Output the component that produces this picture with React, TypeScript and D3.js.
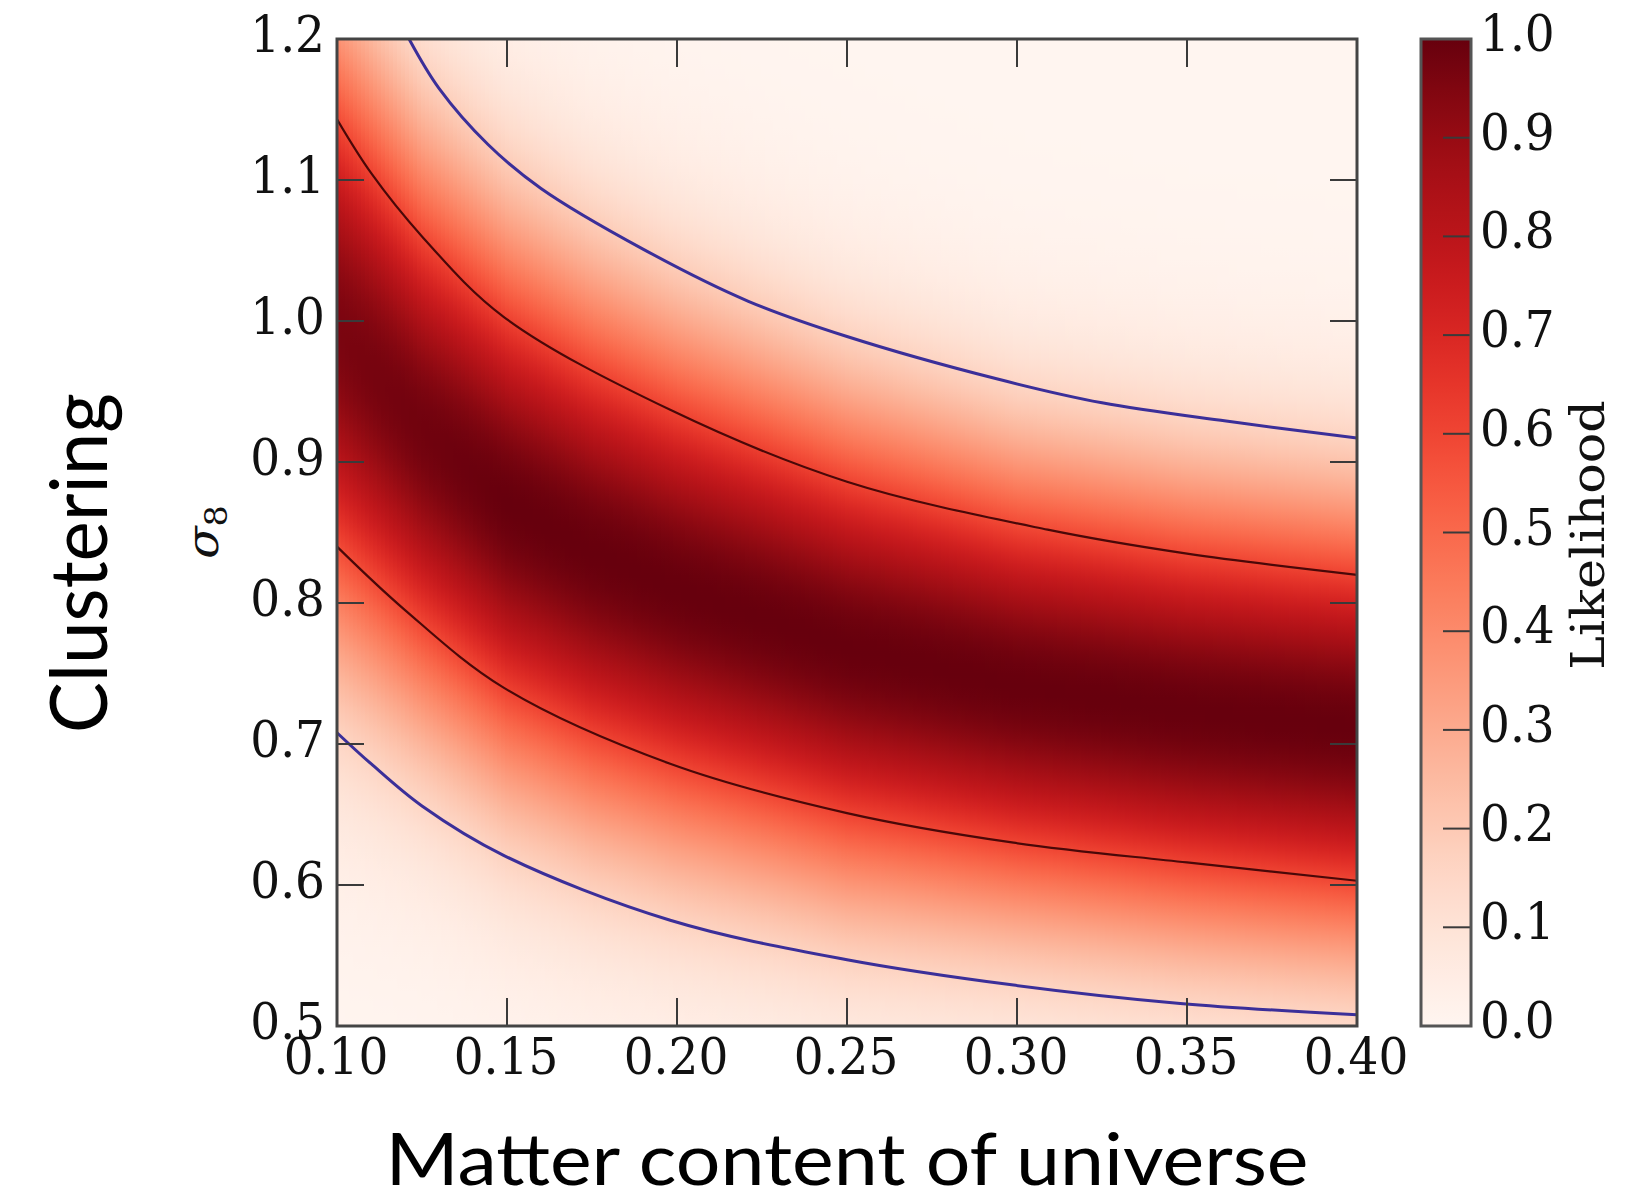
import React from 'react';
import * as d3 from 'd3';

// ---------- data ----------
const xTicks = [0.1, 0.15, 0.2, 0.25, 0.3, 0.35, 0.4];
const xTickLabels = ['0.10', '0.15', '0.20', '0.25', '0.30', '0.35', '0.40'];
const yTicks = [0.5, 0.6, 0.7, 0.8, 0.9, 1.0, 1.1, 1.2];
const yTickLabels = ['0.5', '0.6', '0.7', '0.8', '0.9', '1.0', '1.1', '1.2'];
const cbTicks = [0, 0.1, 0.2, 0.3, 0.4, 0.5, 0.6, 0.7, 0.8, 0.9, 1.0];
const cbTickLabels = ['0.0', '0.1', '0.2', '0.3', '0.4', '0.5', '0.6', '0.7', '0.8', '0.9', '1.0'];

// likelihood ridge: centre (sigma8), width and peak along Omega_m
const ridgeOmega = [0.1, 0.125, 0.15, 0.175, 0.2, 0.25, 0.3, 0.35, 0.4];
const ridgeCenter = [0.992, 0.922, 0.87, 0.836, 0.81, 0.768, 0.741, 0.724, 0.712];
const ridgeWidth = [0.152, 0.138, 0.133, 0.129, 0.125, 0.118, 0.111, 0.109, 0.108];
const ridgePeak = [0.96, 0.98, 1.0, 1.0, 1.0, 1.0, 1.0, 1.0, 1.0];

// contour lines [Omega_m, sigma8]
const innerUpper: [number, number][] = [
  [0.1, 1.143], [0.11, 1.105], [0.125, 1.06], [0.149, 1.003], [0.198, 0.937],
  [0.25, 0.886], [0.309, 0.852], [0.35, 0.835], [0.4, 0.82],
];
const innerLower: [number, number][] = [
  [0.1, 0.84], [0.12, 0.795], [0.149, 0.74], [0.198, 0.686], [0.25, 0.651],
  [0.299, 0.63], [0.35, 0.616], [0.4, 0.603],
];
const outerUpper: [number, number][] = [
  [0.1212, 1.2], [0.13, 1.165], [0.1445, 1.125], [0.16, 1.094], [0.19, 1.051],
  [0.221, 1.014], [0.25, 0.989], [0.294, 0.959], [0.325, 0.942], [0.3615, 0.929], [0.4, 0.917],
];
const outerLower: [number, number][] = [
  [0.1, 0.708], [0.11, 0.686], [0.125, 0.656], [0.149, 0.621], [0.198, 0.575],
  [0.25, 0.547], [0.299, 0.529], [0.348, 0.516], [0.4, 0.508],
];

// ---------- layout ----------
const W = 1629;
const H = 1198;
const L = 337, R = 1357, T = 39, B = 1026;
const CBL = 1421, CBR = 1471;
const STRETCH = 1.08;

const x = d3.scaleLinear().domain([0.1, 0.4]).range([L, R]);
const y = d3.scaleLinear().domain([0.5, 1.2]).range([B, T]);
const cbY = d3.scaleLinear().domain([0, 1]).range([B, T]);

const centerAt = d3.scaleLinear().domain(ridgeOmega).range(ridgeCenter).clamp(true);
const widthAt = d3.scaleLinear().domain(ridgeOmega).range(ridgeWidth).clamp(true);
const peakAt = d3.scaleLinear().domain(ridgeOmega).range(ridgePeak).clamp(true);

const COLW = 4;
const NSTOP = 90;
const serif = '"DejaVu Serif", serif';
const sans = 'Lato, "Open Sans", sans-serif';

export default function App() {
  const nCols = Math.ceil((R - L) / COLW);
  const cols = d3.range(nCols).map((i) => {
    const px = L + i * COLW;
    const om = x.invert(px + COLW / 2);
    const c = centerAt(om), w = widthAt(om), p = peakAt(om);
    const stops = d3.range(NSTOP + 1).map((k) => {
      const s8 = 1.2 - (0.7 * k) / NSTOP;
      const z = (s8 - c) / w;
      const v = p * Math.exp(-0.5 * z * z);
      return { off: k / NSTOP, color: d3.interpolateReds(v) };
    });
    return { px, stops };
  });

  const line = d3
    .line<[number, number]>()
    .x((d) => x(d[0]))
    .y((d) => y(d[1]))
    .curve(d3.curveCatmullRom.alpha(0.5));

  const cbStops = d3.range(41).map((k) => ({ off: k / 40, color: d3.interpolateReds(1 - k / 40) }));
  const tickColor = '#3a3a3a';

  return (
    <svg width={W} height={H} style={{ position: 'absolute', left: 0, top: 0, background: '#fff' }}>
      <defs>
        {cols.map((c, i) => (
          <linearGradient key={i} id={`col${i}`} x1="0" y1="0" x2="0" y2="1">
            {c.stops.map((s, k) => (
              <stop key={k} offset={s.off} stopColor={s.color} />
            ))}
          </linearGradient>
        ))}
        <linearGradient id="cbgrad" x1="0" y1="0" x2="0" y2="1">
          {cbStops.map((s, k) => (
            <stop key={k} offset={s.off} stopColor={s.color} />
          ))}
        </linearGradient>
        <clipPath id="plotclip">
          <rect x={L} y={T} width={R - L} height={B - T} />
        </clipPath>
      </defs>
      <rect x={0} y={0} width={W} height={H} fill="#fff" />

      {/* heatmap */}
      <g clipPath="url(#plotclip)">
        {cols.map((c, i) => (
          <rect key={i} x={c.px} y={T} width={COLW + 0.8} height={B - T} fill={`url(#col${i})`} />
        ))}
        <path d={line(outerUpper) || ''} fill="none" stroke="#3b2f99" strokeWidth={3} />
        <path d={line(outerLower) || ''} fill="none" stroke="#3b2f99" strokeWidth={3} />
        <path d={line(innerUpper) || ''} fill="none" stroke="#4a0808" strokeWidth={2.2} />
        <path d={line(innerLower) || ''} fill="none" stroke="#4a0808" strokeWidth={2.2} />
      </g>

      {/* ticks */}
      <g stroke={tickColor} strokeWidth={2}>
        {xTicks.map((t, i) => (
          <g key={i}>
            <line x1={x(t)} x2={x(t)} y1={B} y2={B - 28} />
            <line x1={x(t)} x2={x(t)} y1={T} y2={T + 28} />
          </g>
        ))}
        {yTicks.map((t, i) => (
          <g key={i}>
            <line x1={L} x2={L + 27} y1={y(t)} y2={y(t)} />
            <line x1={R} x2={R - 27} y1={y(t)} y2={y(t)} />
          </g>
        ))}
      </g>
      <rect x={L} y={T} width={R - L} height={B - T} fill="none" stroke="#444" strokeWidth={3} />

      {/* tick labels */}
      <g fontFamily={serif} fontSize={47} fill="#111">
        {xTicks.map((t, i) => (
          <text key={i} transform={`translate(${x(t) - 1},${B + 48}) scale(1,${STRETCH})`} textAnchor="middle">
            {xTickLabels[i]}
          </text>
        ))}
        {yTicks.map((t, i) => (
          <text key={i} transform={`translate(${L - 12},${y(t) + 13}) scale(1,${STRETCH})`} textAnchor="end">
            {yTickLabels[i]}
          </text>
        ))}
      </g>

      {/* sigma8 label */}
      <text transform={`translate(218,532) rotate(-90) scale(${STRETCH},1)`} textAnchor="middle" fontFamily={serif} fill="#111">
        <tspan fontStyle="italic" fontSize={44}>σ</tspan>
        <tspan fontSize={31} dy={9}>8</tspan>
      </text>

      {/* colorbar */}
      <rect x={CBL} y={T} width={CBR - CBL} height={B - T} fill="url(#cbgrad)" />
      <g stroke={tickColor} strokeWidth={2}>
        {cbTicks.map((t, i) => (
          <line key={i} x1={CBR} x2={CBR - 28} y1={cbY(t)} y2={cbY(t)} />
        ))}
      </g>
      <rect x={CBL} y={T} width={CBR - CBL} height={B - T} fill="none" stroke="#555" strokeWidth={3} />
      <g fontFamily={serif} fontSize={47} fill="#111">
        {cbTicks.map((t, i) => (
          <text key={i} transform={`translate(${CBR + 9},${cbY(t) + 12}) scale(1,${STRETCH})`} textAnchor="start">
            {cbTickLabels[i]}
          </text>
        ))}
      </g>
      <text transform={`translate(1604,535) rotate(-90) scale(${STRETCH},1)`} textAnchor="middle" fontFamily={serif} fontSize={47} fill="#111">
        Likelihood
      </text>

      {/* slide labels */}
      <text transform="translate(107,563) rotate(-90)" textAnchor="middle" fontFamily={sans} fontSize={80} textLength={340} lengthAdjust="spacingAndGlyphs" fill="#000">
        Clustering
      </text>
      <text x={(L + R) / 2} y={1185} textAnchor="middle" fontFamily={sans} fontSize={72} textLength={923} lengthAdjust="spacingAndGlyphs" fill="#000">
        Matter content of universe
      </text>
    </svg>
  );
}
